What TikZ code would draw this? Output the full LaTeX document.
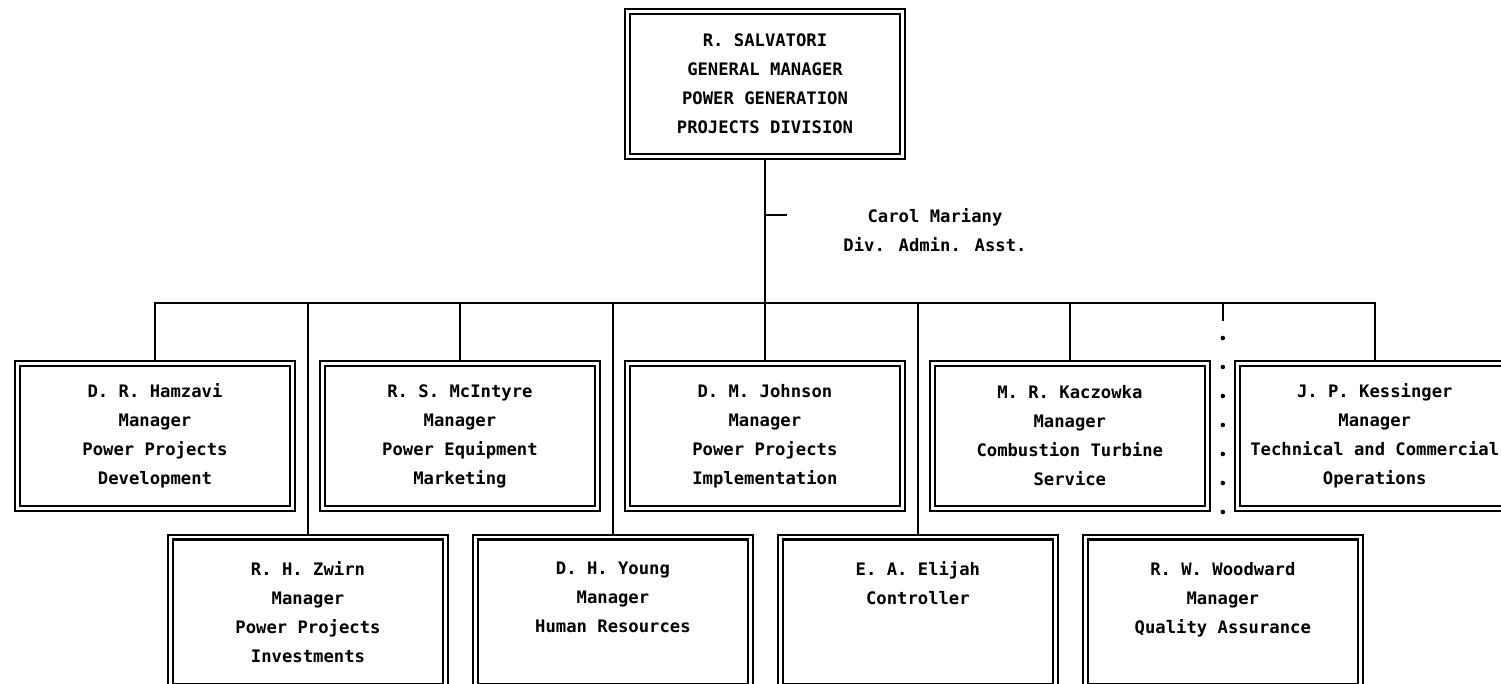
\documentclass[tikz,border=0pt]{standalone}
\usepackage{fontspec}
\setmainfont{DejaVu Sans Mono}
\usepackage{tikz}

\begin{document}
\begin{tikzpicture}[x=0.02cm, y=-0.02cm, node distance={6.1cm},
        main/.style = {draw, double, line width=1.3pt, double distance=1.4pt,
            minimum width=5.5cm, minimum height=2.9cm, inner sep=0pt,
            align=center, font=\bfseries\fontsize{9.8}{16.5}\selectfont},
        low/.style = {main, minimum height=3.0cm},
        link/.style = {line width=1.3pt},
        dots/.style = {line width=2.6pt, line cap=round, dash pattern=on 0pt off 0.58cm}]
        \useasboundingbox (0,0) rectangle (1501,683);

        \node[main] (GM) at (765,84) {R. SALVATORI\\GENERAL MANAGER\\POWER GENERATION\\PROJECTS DIVISION};
        \node[align=center, font=\bfseries\fontsize{9.8}{16.5}\selectfont] (CM) at (935,230) {Carol Mariany\\Div. Admin. Asst.};

        \node[main] (HZ) at (155,436) {D. R. Hamzavi\\Manager\\Power Projects\\Development};
        \node[main] (MI) [right of = HZ] {R. S. McIntyre\\Manager\\Power Equipment\\Marketing};
        \node[main] (JO) [right of = MI] {D. M. Johnson\\Manager\\Power Projects\\Implementation};
        \node[main] (KA) [right of = JO] {M. R. Kaczowka\\Manager\\Combustion Turbine\\Service};
        \node[main] (KE) [right of = KA] {J. P. Kessinger\\Manager\\Technical and Commercial\\Operations};

        \node[low] (ZW) at (308,612) {R. H. Zwirn\\Manager\\Power Projects\\Investments};
        \node[low] (YO) [right of = ZW] {D. H. Young\\Manager\\Human Resources\\~};
        \node[low] (EL) [right of = YO] {E. A. Elijah\\Controller\\~\\~};
        \node[low] (WO) [right of = EL] {R. W. Woodward\\Manager\\Quality Assurance\\~};

        \coordinate (bus) at (765,303);
        \coordinate (tick) at (765,215);
        \coordinate (wbus) at (WO.north |- bus);

        \draw[link] (GM.south) -- (bus);
        \draw[link] (tick) -- ++(22,0);
        \draw[link] (HZ.north) |- (bus) -| (KE.north);
        \foreach \n in {MI,JO,KA,ZW,YO,EL}
            \draw[link] (\n.north) -- (\n.north |- bus);
        \draw[link] (wbus) -- ++(0,18);
        \draw[dots] (wbus) ++(0,35) -- ([yshift=0.44cm]WO.north);
    \end{tikzpicture}
\end{document}
